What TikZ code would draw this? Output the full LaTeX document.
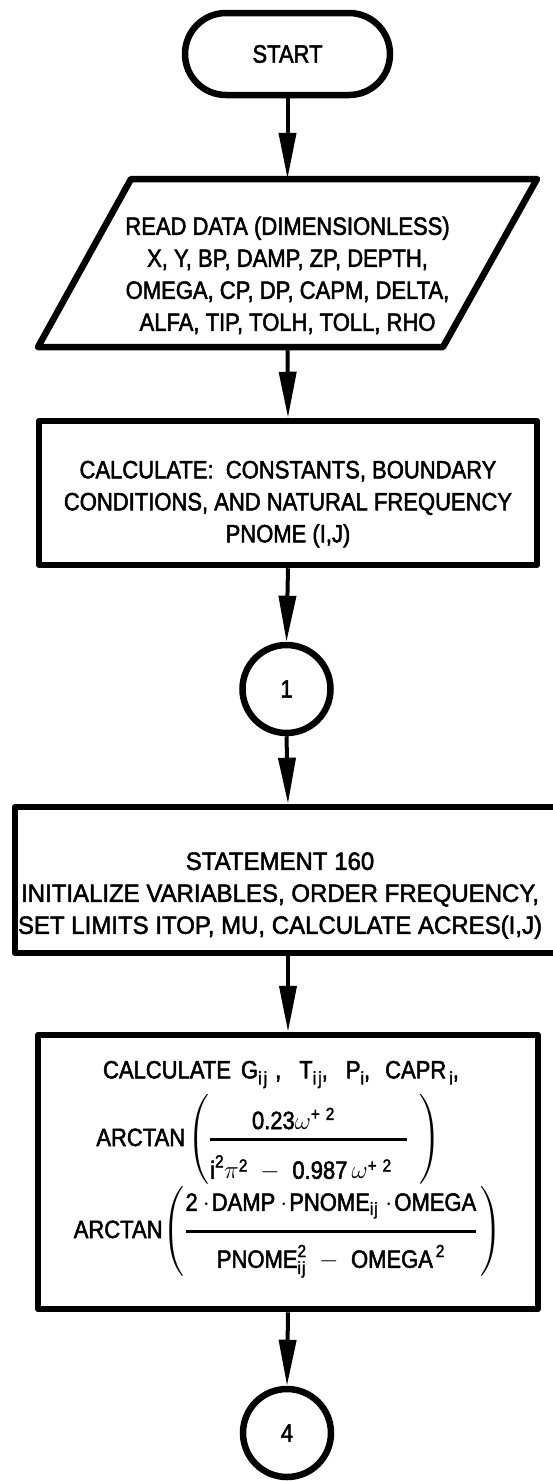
\documentclass[tikz,border=0pt]{standalone}
\usepackage{fix-cm}
\usepackage{amsmath}
\usepackage{fontspec}
\setmainfont{Liberation Sans}[FakeStretch=0.88, FakeBold=2]
\newfontfamily\widefont{Liberation Sans}[FakeStretch=0.96, FakeBold=2]
\usetikzlibrary{arrows.meta}
\newcommand\lowered[2]{\raisebox{#1}[\height][\depth]{#2}}
\newcommand\parstrut{\vrule height 52pt depth 40pt width 0pt}
\newcommand\sub[1]{\raisebox{-6pt}{\fontsize{18}{18}\selectfont #1}}
\begin{document}
\begin{tikzpicture}[x=1pt,y=1pt,
  txt/.style={align=center, font=\fontsize{25}{32}\selectfont},
  box/.style={txt, draw, line width=6.5pt, line join=round, fill=white, inner sep=0pt},
  outline/.style={draw, line width=6.5pt, line join=round},
  conn/.style={line width=4pt, -{Triangle[length=46pt,width=17pt]}},
  conncirc/.style={circle, draw, line width=6.5pt, minimum size=88pt, inner sep=0pt, font=\fontsize{25}{32}\selectfont},
  ]
\useasboundingbox (0,0) rectangle (553,-1481);

\node[box, rounded corners=41pt, minimum width=205pt, minimum height=82pt] (start) at (287.5,-54) {START};

\node[txt, inner sep=0pt, minimum height=168pt] (read) at (287.5,-263)
  {\lowered{-13.4pt}{\begin{tabular}{@{}c@{}}READ DATA (DIMENSIONLESS)\\X, Y, BP, DAMP, ZP, DEPTH,\\OMEGA, CP, DP, CAPM, DELTA,\\ALFA, TIP, TOLH, TOLL, RHO\end{tabular}}};
\draw[outline] ([shift={(-156.5,84)}]read.center) -- ([shift={(249.5,84)}]read.center)
  -- ([shift={(155.5,-84)}]read.center) -- ([shift={(-249.5,-84)}]read.center) -- cycle;

\node[box, minimum width=498pt, minimum height=144pt] (calc) at (288,-493)
  {\lowered{-10.9pt}{\begin{tabular}{@{}c@{}}CALCULATE:\ \ CONSTANTS, BOUNDARY\\CONDITIONS, AND NATURAL FREQUENCY\\PNOME (I,J)\end{tabular}}};

\node[conncirc] (c1) at (286.5,-689) {1};

\node[box, minimum width=546pt, minimum height=146pt] (stmt) at (288,-880)
  {\lowered{-15.4pt}{\kern-16pt\widefont\begin{tabular}{@{}c@{}}STATEMENT 160\\INITIALIZE VARIABLES, ORDER FREQUENCY,\\SET LIMITS ITOP, MU, CALCULATE ACRES(I,J)\end{tabular}}};

\node[box, minimum width=500pt, minimum height=274pt] (arct) at (288,-1172)
  {\lowered{5pt}{\begin{tabular}{@{}c@{}}CALCULATE\kern10pt G\sub{i\kern2pt j}\kern8pt,\kern18pt T\sub{i\kern2pt j},\kern18pt P\sub{i},\kern15pt CAPR\kern3pt\sub{i},\kern14pt\null\\[6pt]
  ARCTAN\kern2pt$\left(\parstrut\genfrac{}{}{3pt}{0}{\text{0.23}\omega^{\text{+\,\,2}}\hspace{30pt}}{\rule{0pt}{28.5pt}\text{i}^{\text{2}}\pi^{\text{2}}\;-\;\text{0.987}\,\omega^{\text{+\,\,2}}\hspace{15pt}}\hspace{12pt}\right)$\kern38pt\null\\[13pt]
  ARCTAN$\left(\parstrut\genfrac{}{}{3pt}{0}{\rule[-10.5pt]{0pt}{10.5pt}\text{2\kern5pt$\cdot$\kern2pt DAMP\kern5pt$\cdot$\kern2pt PNOME}_{\text{i\kern1pt j}}\,\text{\kern3pt$\cdot$\kern2pt OMEGA}}{\rule{0pt}{25.5pt}\text{PNOME}^{\text{2}}_{\text{i\kern1pt j}}\;-\;\text{OMEGA}^{\,\text{2}}}\hspace{3pt}\right)$
  \end{tabular}}};

\node[conncirc] (c4) at (287,-1433) {4};

\draw[conn] (start.south) -- (read.north);
\draw[conn] (read.south) -- (calc.north);
\draw[conn] (calc.south) -- (c1.north);
\draw[conn] (c1.south) -- (stmt.north);
\draw[conn] (stmt.south) -- (arct.north);
\draw[conn] (arct.south) -- (c4.north);
\end{tikzpicture}
\end{document}
